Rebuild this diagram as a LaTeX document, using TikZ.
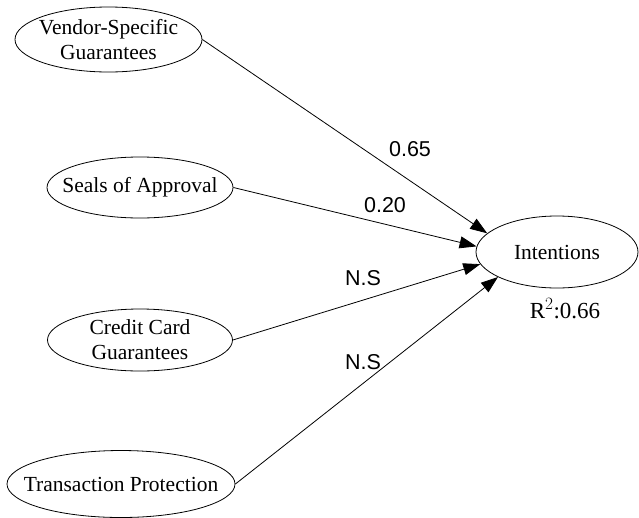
\documentclass[tikz,border=0pt]{standalone}
\usepackage{fontspec}
\setmainfont{Liberation Serif}
\newfontfamily\arialfont{Liberation Sans}
\usetikzlibrary{shapes.geometric,arrows.meta}
\tikzset{
  construct/.style={ellipse,draw,line width=0.8pt,inner sep=0pt},
  ctext/.style={align=center,inner sep=0pt,font=\fontsize{21.5}{25}\selectfont},
  path/.style={line width=0.8pt,-{Triangle[length=17pt,width=12pt]}},
  coef/.style={font=\arialfont\fontsize{21.5}{25}\selectfont},
}
\begin{document}
\begin{tikzpicture}[x=1pt,y=-1pt]
\useasboundingbox (0,0) rectangle (639,517);
\node[construct,minimum width=187pt,minimum height=65pt] (V) at (108.5,39.5) {};
\node[ctext] (Vt) at (V) {Vendor-Specific\\Guarantees};
\node[construct,minimum width=186pt,minimum height=61pt] (S) at (140,187.5) {};
\node[ctext] (St) at (S) {Seals of Approval};
\node[construct,minimum width=185pt,minimum height=62pt] (C) at (140,340) {};
\node[ctext] (Ct) at (C) {Credit Card\\Guarantees};
\node[construct,minimum width=228pt,minimum height=67pt] (T) at (121,484) {};
\node[ctext] (Tt) at (T) {Transaction Protection};
\node[construct,minimum width=162pt,minimum height=72pt] (I) at (557,252) {};
\node[ctext] (It) at (I) {Intentions};
\node[font=\fontsize{23}{26}\selectfont] (R) at (565,309) {R$^2$:0.66};
\draw[path] (V.east) -- (I.165);
\draw[path] (S.east) -- (I.176);
\draw[path] (C.east) -- (I.189);
\draw[path] (T.east) -- (I.203);
\node[coef] (l1) at (410,149) {0.65};
\node[coef] (l2) at (385,205) {0.20};
\node[coef] (l3) at (363,278) {N.S};
\node[coef] (l4) at (363,362) {N.S};
\end{tikzpicture}
\end{document}
